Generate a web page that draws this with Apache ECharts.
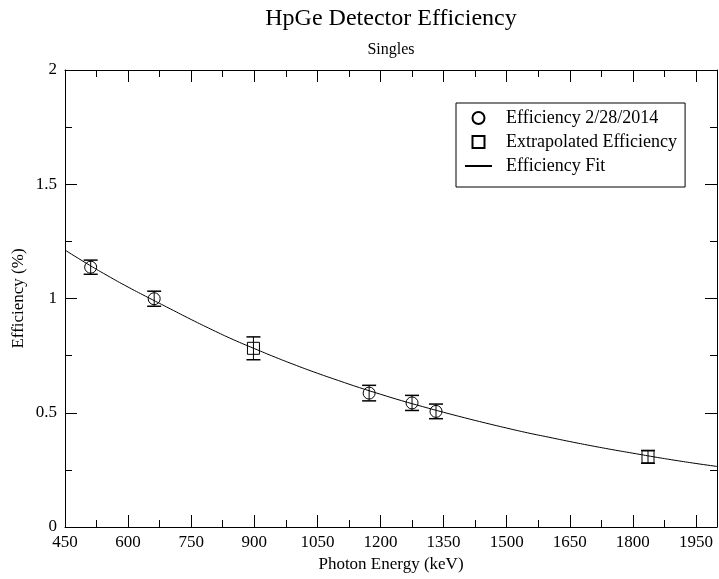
<!DOCTYPE html>
<html>
<head>
<meta charset="utf-8">
<script src="https://cdn.jsdelivr.net/npm/echarts@6/dist/echarts.min.js"></script>
<style>
  html, body { margin: 0; padding: 0; background: #fff; }
  #main { width: 719px; height: 579px; }
</style>
</head>
<body>
<div id="main"></div>
<script>
// measured points (keV, %)
var effEnergy = [511, 662, 1173, 1275, 1332];
var effValue = [1.137, 0.999, 0.586, 0.543, 0.506];
var effErr = [0.031, 0.033, 0.034, 0.033, 0.032];

// extrapolated points
var extEnergy = [898, 1836];
var extValue = [0.782, 0.307];
var extErr = [0.05, 0.028];

// fit curve
var fitEnergy = [450, 500, 550, 600, 650, 700, 750, 800, 850, 900, 950, 1000, 1050, 1100, 1150,
  1200, 1250, 1300, 1350, 1400, 1450, 1500, 1550, 1600, 1650, 1700, 1750, 1800, 1850, 1900, 1950, 2000];
var fitValue = [1.212, 1.155, 1.101, 1.05, 1.002, 0.955, 0.908, 0.863, 0.82, 0.781, 0.743, 0.707, 0.673, 0.641, 0.61,
  0.581, 0.553, 0.527, 0.502, 0.478, 0.455, 0.433, 0.412, 0.393, 0.374, 0.356, 0.339, 0.323, 0.307, 0.292, 0.278, 0.265];

// tick values
var xMajor = [450, 600, 750, 900, 1050, 1200, 1350, 1500, 1650, 1800, 1950];
var xMinor = [525, 675, 825, 975, 1125, 1275, 1425, 1575, 1725, 1875];

var FONT = 'Liberation Serif';
var black = '#000';

function pairs(xs, ys) {
  var out = [];
  for (var i = 0; i < xs.length; i++) out.push([xs[i], ys[i]]);
  return out;
}
function errData(xs, ys, es) {
  var out = [];
  for (var i = 0; i < xs.length; i++) out.push([xs[i], ys[i] - es[i], ys[i] + es[i]]);
  return out;
}

// error bar drawn with axis coords
function renderErr(params, api) {
  var x = api.value(0);
  var lo = api.coord([x, api.value(1)]);
  var hi = api.coord([x, api.value(2)]);
  var w = 7;
  return {
    type: 'group',
    children: [
      { type: 'line', shape: { x1: lo[0], y1: lo[1], x2: hi[0], y2: hi[1] }, style: { stroke: black, lineWidth: 1 } },
      { type: 'line', shape: { x1: lo[0] - w, y1: lo[1], x2: lo[0] + w, y2: lo[1] }, style: { stroke: black, lineWidth: 1.5 } },
      { type: 'line', shape: { x1: hi[0] - w, y1: hi[1], x2: hi[0] + w, y2: hi[1] }, style: { stroke: black, lineWidth: 1.5 } }
    ]
  };
}

function xAx(pos, ticks, len, main) {
  return {
    type: 'value', min: 450, max: 2000, position: pos,
    axisLine: { show: main, onZero: false, lineStyle: { color: black, width: 1 } },
    axisTick: { show: true, inside: true, length: len, customValues: ticks, lineStyle: { color: black } },
    axisLabel: {
      show: main && pos === 'bottom', customValues: xMajor, color: black,
      fontFamily: FONT, fontSize: 17, margin: 7,
      formatter: function (v) { return String(v); }
    },
    splitLine: { show: false },
    name: main && pos === 'bottom' ? 'Photon Energy (keV)' : '',
    nameLocation: 'middle', nameGap: 29, nameMoveOverlap: false,
    nameTextStyle: { color: black, fontFamily: FONT, fontSize: 17 }
  };
}
function yAx(pos) {
  return {
    type: 'value', min: 0, max: 2, interval: 0.5, position: pos,
    axisLine: { show: true, onZero: false, lineStyle: { color: black, width: 1 } },
    axisTick: { show: true, inside: true, length: 12, lineStyle: { color: black } },
    minorTick: { show: true, splitNumber: 2, length: 7, lineStyle: { color: black } },
    axisLabel: { show: pos === 'left', color: black, fontFamily: FONT, fontSize: 17, margin: 8 },
    splitLine: { show: false },
    name: pos === 'left' ? 'Efficiency (%)' : '',
    nameLocation: 'middle', nameGap: 38, nameMoveOverlap: false,
    nameTextStyle: { color: black, fontFamily: FONT, fontSize: 17 }
  };
}

var chart = echarts.init(document.getElementById('main'));
chart.setOption({
  animation: false,
  backgroundColor: '#fff',
  title: {
    text: 'HpGe Detector Efficiency',
    subtext: 'Singles',
    left: 386, top: 2, textAlign: 'center', itemGap: 11,
    textStyle: { color: black, fontFamily: FONT, fontSize: 24, fontWeight: 'normal' },
    subtextStyle: { color: black, fontFamily: FONT, fontSize: 16 }
  },
  grid: { left: 65, right: 2, top: 70, bottom: 52, containLabel: false, outerBoundsMode: 'none' },
  legend: {
    orient: 'vertical', left: 456, top: 103,
    padding: [6, 8, 12, 8], itemGap: 6,
    itemWidth: 27, itemHeight: 12,
    borderColor: black, borderWidth: 1, backgroundColor: '#fff',
    textStyle: { color: black, fontFamily: FONT, fontSize: 18, padding: [0, 0, 0, 9] },
    data: [
      { name: 'Efficiency 2/28/2014', icon: 'circle' },
      { name: 'Extrapolated Efficiency', icon: 'path://M0,0L10,0L10,10L0,10Z' },
      { name: 'Efficiency Fit', itemStyle: { opacity: 0 } }
    ]
  },
  xAxis: [
    xAx('bottom', xMajor, 12, true),
    xAx('top', xMajor, 12, true),
    xAx('bottom', xMinor, 7, false),
    xAx('top', xMinor, 7, false)
  ],
  yAxis: [yAx('left'), yAx('right')],
  series: [
    {
      name: 'Efficiency Fit', type: 'line', symbol: 'none', smooth: true,
      data: pairs(fitEnergy, fitValue),
      lineStyle: { color: black, width: 1 }, itemStyle: { color: black }, z: 2
    },
    {
      name: 'effErr', type: 'custom', renderItem: renderErr,
      data: errData(effEnergy, effValue, effErr), z: 3
    },
    {
      name: 'extErr', type: 'custom', renderItem: renderErr,
      data: errData(extEnergy, extValue, extErr), z: 3
    },
    {
      name: 'Efficiency 2/28/2014', type: 'scatter', symbol: 'circle', symbolSize: 12,
      data: pairs(effEnergy, effValue),
      itemStyle: { color: 'rgba(0,0,0,0)', borderColor: black, borderWidth: 1, opacity: 1 }, z: 4
    },
    {
      name: 'Extrapolated Efficiency', type: 'scatter', symbol: 'rect', symbolSize: 12,
      data: pairs(extEnergy, extValue),
      itemStyle: { color: 'rgba(0,0,0,0)', borderColor: black, borderWidth: 1, opacity: 1 }, z: 4
    }
  ]
});
</script>
</body>
</html>
